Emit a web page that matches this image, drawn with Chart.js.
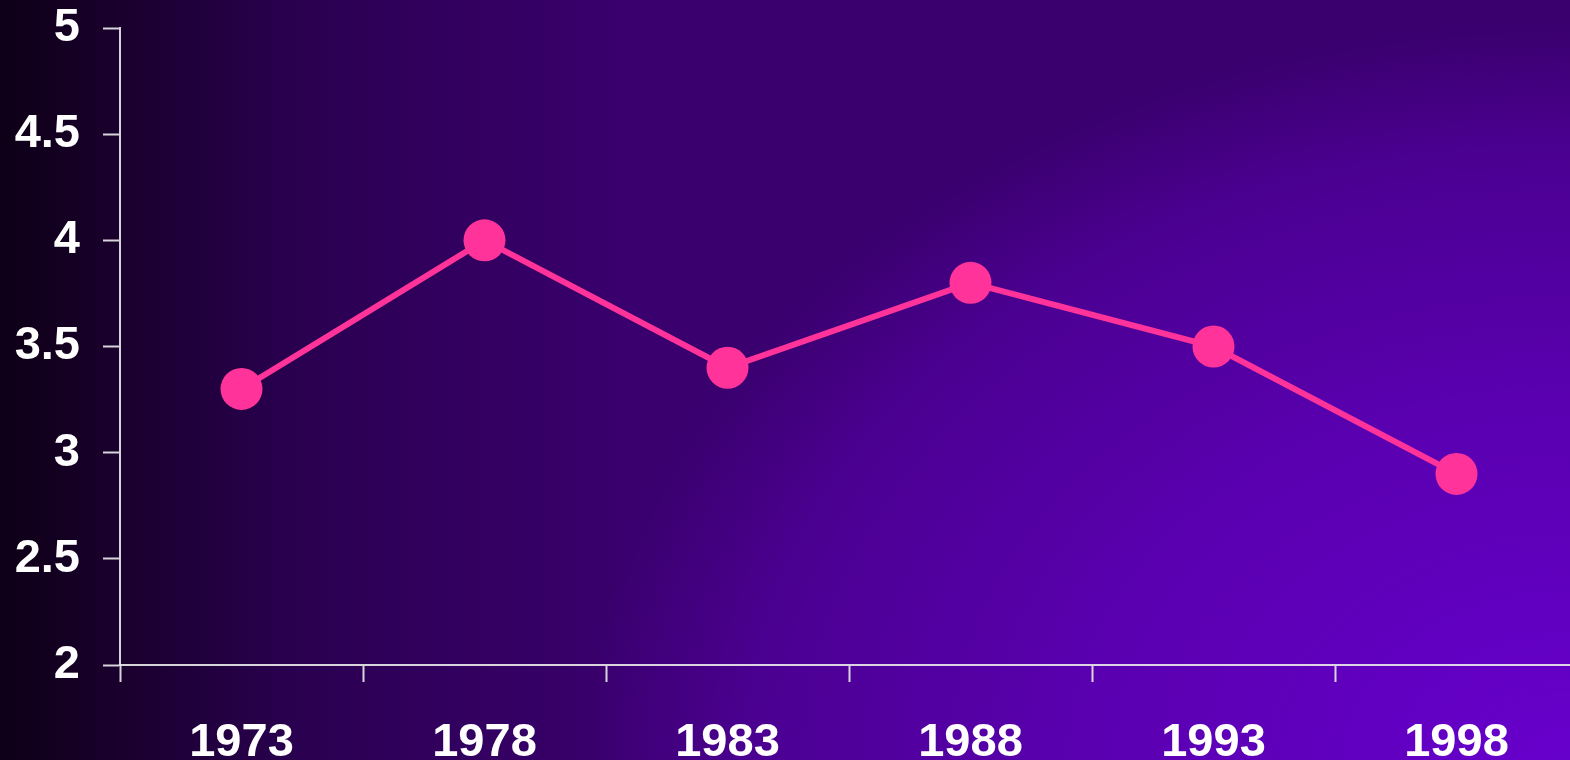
<!DOCTYPE html>
<html>
<head>
<meta charset="utf-8">
<script src="https://cdn.jsdelivr.net/npm/chart.js@4/dist/chart.umd.min.js"></script>
<style>
  html, body {
    margin: 0;
    padding: 0;
    width: 1570px;
    height: 760px;
    overflow: hidden;
  }
  body {
    background:
      radial-gradient(ellipse 1070px 800px at 100% 100%,
        rgba(103, 0, 204, 1) 0%,
        rgba(103, 0, 204, 0.7) 45%,
        rgba(103, 0, 204, 0.38) 76%,
        rgba(103, 0, 204, 0) 92%),
      linear-gradient(to right, #0e0016 0%, #2a0050 19%, #3a006e 40%, #3a006e 100%);
  }
  #chart {
    position: absolute;
    left: 0;
    top: 0;
  }
</style>
</head>
<body>
<canvas id="chart" width="1578" height="760"></canvas>
<script>
// data
const years = ["1973", "1978", "1983", "1988", "1993", "1998"];
const values = [3.3, 4.0, 3.4, 3.8, 3.5, 2.9];
const yTicks = [2, 2.5, 3, 3.5, 4, 4.5, 5];
const yTickLabels = ["2", "2.5", "3", "3.5", "4", "4.5", "5"];

const pink = "#ff3399";
const axisColor = "rgba(235, 235, 235, 0.9)";
const labelFont = { family: "'Liberation Sans', Arial, sans-serif", size: 47, weight: "bold" };

const ctx = document.getElementById("chart").getContext("2d");
const myChart = new Chart(ctx, {
  type: "line",
  data: {
    labels: years,
    datasets: [
      {
        data: values,
        borderColor: pink,
        backgroundColor: pink,
        borderWidth: 6,
        pointRadius: 21,
        pointHoverRadius: 21,
        pointBorderWidth: 0,
        pointBackgroundColor: pink,
        tension: 0,
      },
    ],
  },
  options: {
    responsive: false,
    animation: false,
    devicePixelRatio: 1,
    layout: { autoPadding: false, padding: { top: 28, right: 0, bottom: 0, left: 0 } },
    plugins: {
      legend: { display: false },
      tooltip: { enabled: false },
    },
    scales: {
      x: {
        offset: true,
        grid: {
          offset: true,
          drawOnChartArea: false,
          drawTicks: true,
          tickLength: 17,
          tickWidth: 2,
          tickColor: axisColor,
        },
        border: { color: axisColor, width: 2 },
        ticks: {
          color: "#ffffff",
          font: labelFont,
          padding: 33,
          maxRotation: 0,
          autoSkip: false,
        },
        afterFit: function (scale) {
          scale.height = 95;
          scale.paddingLeft = 0;
          scale.paddingRight = 0;
        },
      },
      y: {
        min: 2,
        max: 5,
        afterBuildTicks: function (scale) {
          scale.ticks = yTicks.map(function (v) { return { value: v }; });
        },
        grid: {
          drawOnChartArea: false,
          drawTicks: true,
          tickLength: 17,
          tickWidth: 2,
          tickColor: axisColor,
        },
        border: { color: axisColor, width: 2 },
        ticks: {
          color: "#ffffff",
          font: labelFont,
          padding: 23,
          callback: function (value) {
            const i = yTicks.indexOf(value);
            return i >= 0 ? yTickLabels[i] : "";
          },
        },
        afterFit: function (scale) {
          scale.width = 120;
          scale.paddingTop = 0;
          scale.paddingBottom = 0;
        },
      },
    },
  },
});
</script>
</body>
</html>
